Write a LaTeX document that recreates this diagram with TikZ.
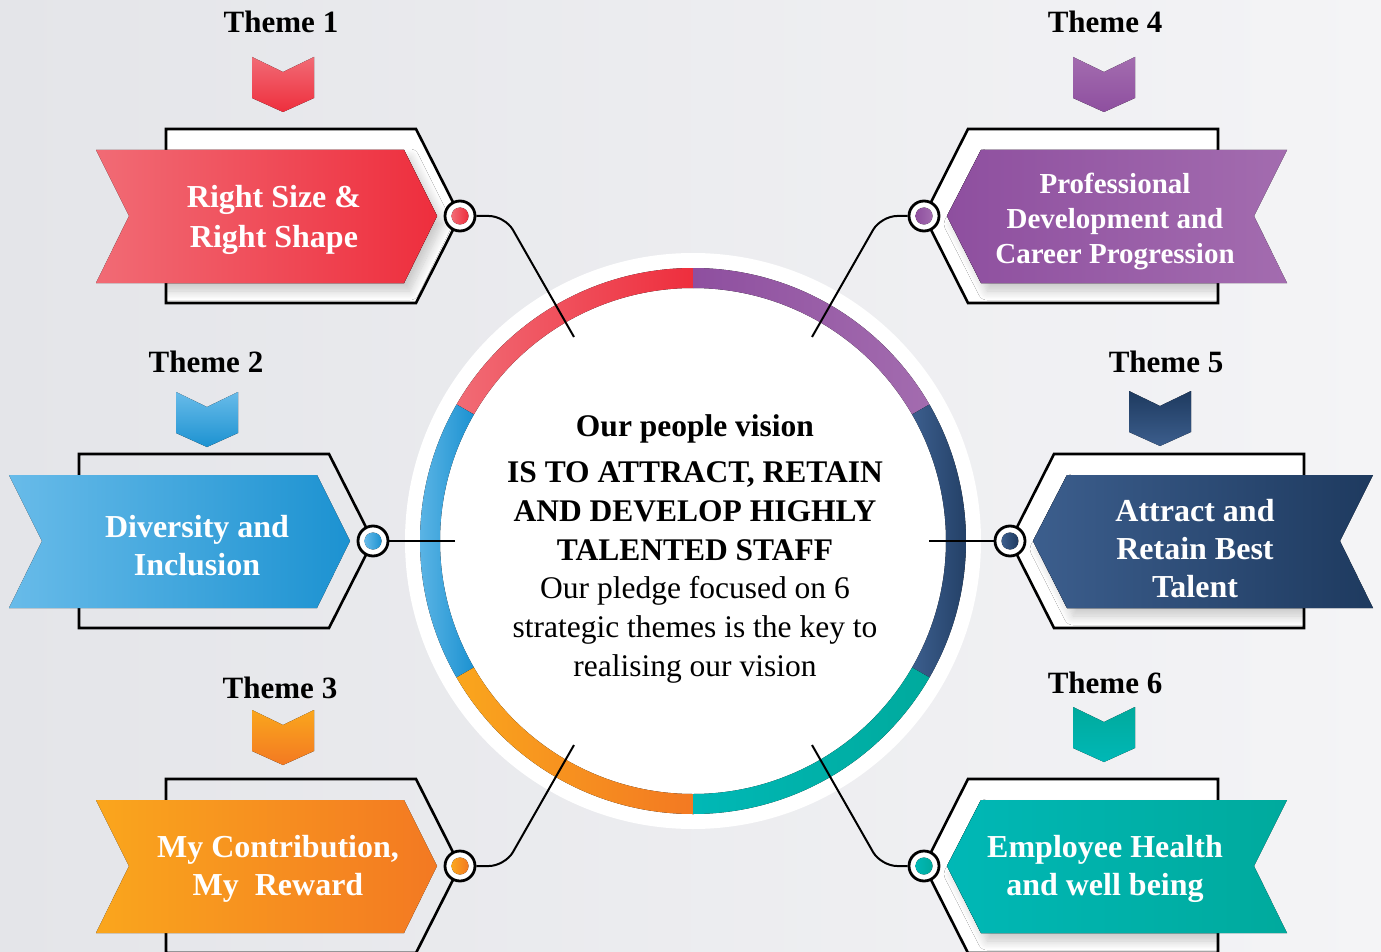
\documentclass[tikz,border=0pt]{standalone}
\usepackage{fontspec}
\setmainfont{Liberation Serif}
\usetikzlibrary{shadows.blur}

% palette
\definecolor{bgL}{HTML}{E4E5E9}
\definecolor{bgR}{HTML}{F4F4F6}
\definecolor{redA}{HTML}{F16B75}
\definecolor{redB}{HTML}{EE2E3D}
\definecolor{bluA}{HTML}{68BBE9}
\definecolor{bluB}{HTML}{1C92D1}
\definecolor{orgA}{HTML}{FAA61D}
\definecolor{orgB}{HTML}{F37922}
\definecolor{purA}{HTML}{8E4F9F}
\definecolor{purB}{HTML}{A36CAF}
\definecolor{navA}{HTML}{3C5E8D}
\definecolor{navB}{HTML}{1E3A5F}
\definecolor{tealA}{HTML}{00B8B6}
\definecolor{tealB}{HTML}{00AA9D}

% ribbon outlines, drawn around a dot centre at (0,0)
\def\RibPathL{(-364,66) -- (-56,66) -- (-23,0) -- (-56,-67) -- (-364,-67) -- (-331,0) -- cycle}
\def\RibPathR{(363,66) -- (57,66) -- (23,0) -- (57,-67) -- (363,-67) -- (330,0) -- cycle}
\def\FramePathL{(-294,87) -- (-44,87) -- (0,0) -- (-44,-87) -- (-294,-87) -- cycle}
\def\FramePathR{(294,87) -- (44,87) -- (0,0) -- (44,-87) -- (294,-87) -- cycle}

% framed ribbon whose soft shadow stays inside the white frame
\newcommand\ShadowedL[2]{%
  \fill[white] \FramePathL;
  \begin{scope}\clip \FramePathL;
    \fill[softshadow,left color=#1,right color=#2] \RibPathL;
  \end{scope}
  \draw[outl] \FramePathL;
  \fill[left color=#1,right color=#2] \RibPathL;}
\newcommand\ShadowedR[2]{%
  \fill[white] \FramePathR;
  \begin{scope}\clip \FramePathR;
    \fill[softshadow,left color=#1,right color=#2] \RibPathR;
  \end{scope}
  \draw[outl] \FramePathR;
  \fill[left color=#1,right color=#2] \RibPathR;}
\newcommand\PlainL[2]{%
  \draw[outl] \FramePathL;
  \fill[left color=#1,right color=#2] \RibPathL;}

% chevron marker: top centre at (0,0)
\newcommand\Chevron[2]{\fill[top color=#1,bottom color=#2]
  (-31,0) -- (0,-15) -- (31,0) -- (31,-41) -- (0,-55) -- (-31,-41) -- cycle;}
% ring segment of the central wheel
\newcommand\Segment[4]{\fill[left color=#3,right color=#4]
  (#1:273) arc[start angle=#1,end angle=#2,radius=273] -- (#2:253)
  arc[start angle=#2,end angle=#1,radius=253] -- cycle;}

\begin{document}
\begin{tikzpicture}[x=1pt,y=1pt,
  outl/.style={draw=black,line width=2.6pt,line join=miter},
  link/.style={draw=black,line width=2pt,rounded corners=16pt},
  dotring/.style={circle,draw=black,line width=2.8pt,fill=white,minimum size=30pt,inner sep=0pt},
  ribtxt/.style={text=white,font=\fontsize{32}{39}\selectfont\bfseries,align=center},
  themelbl/.style={font=\fontsize{31}{36}\selectfont\bfseries},
  softshadow/.style={blur shadow={shadow xshift=6pt,shadow yshift=-8pt,shadow blur steps=12,shadow blur radius=9pt,shadow opacity=22}}
]
% background
\shade[left color=bgL,right color=bgR] (0,0) rectangle (1381,-952);
\useasboundingbox (0,0) rectangle (1381,-952);

% central wheel
\begin{scope}[shift={(693,-541)}]
  \fill[white] (0,0) circle (288);
  \Segment{90}{150}{redA}{redB}
  \Segment{30}{90}{purA}{purB}
  \Segment{-30}{30}{navA}{navB}
  \Segment{150}{210}{bluA}{bluB}
  \Segment{210}{270}{orgA}{orgB}
  \Segment{270}{330}{tealA}{tealB}
\end{scope}
\node[font=\fontsize{31.5}{38.7}\selectfont,align=center] (vision) at (695,-549)
  {\textbf{Our people vision}\\[7pt]
   \textbf{IS TO ATTRACT, RETAIN}\\
   \textbf{AND DEVELOP HIGHLY}\\
   \textbf{TALENTED STAFF}\\
   Our pledge focused on 6\\
   strategic themes is the key to\\
   realising our vision};

% anchor points on the wheel
\coordinate (w1) at (574,-337);
\coordinate (w2) at (455,-541);
\coordinate (w3) at (574,-745);
\coordinate (w4) at (812,-337);
\coordinate (w5) at (929,-541);
\coordinate (w6) at (812,-745);

% Theme 1
\begin{scope}[shift={(460,-216)}]\ShadowedL{redA}{redB}\end{scope}
\node[ribtxt,font=\fontsize{32}{40}\selectfont\bfseries] (r1) at (274,-220) {Right Size \&\\Right Shape};
\node[dotring] (d1) at (460,-216) {};
\fill[left color=redA,right color=redB] (d1.center) circle (8.5);

% Theme 2
\begin{scope}[shift={(373,-541)}]\PlainL{bluA}{bluB}\end{scope}
\node[ribtxt,font=\fontsize{32}{38}\selectfont\bfseries] (r2) at (197,-546) {Diversity and\\Inclusion};
\node[dotring] (d2) at (373,-541) {};
\fill[left color=bluA,right color=bluB] (d2.center) circle (8.5);

% Theme 3
\begin{scope}[shift={(460,-866)}]\PlainL{orgA}{orgB}\end{scope}
\node[ribtxt,font=\fontsize{32}{38}\selectfont\bfseries] (r3) at (278,-869) {My Contribution,\\My\ \ Reward};
\node[dotring] (d3) at (460,-866) {};
\fill[left color=orgA,right color=orgB] (d3.center) circle (8.5);

% Theme 4
\begin{scope}[shift={(924,-216)}]\ShadowedR{purA}{purB}\end{scope}
\node[ribtxt,font=\fontsize{29}{35}\selectfont\bfseries] (r4) at (1115,-221) {Professional\\Development and\\Career Progression};
\node[dotring] (d4) at (924,-216) {};
\fill[left color=purA,right color=purB] (d4.center) circle (8.5);

% Theme 5
\begin{scope}[shift={(1010,-541)}]\ShadowedR{navA}{navB}\end{scope}
\node[ribtxt,font=\fontsize{32}{38}\selectfont\bfseries] (r5) at (1195,-549) {Attract and\\Retain Best\\Talent};
\node[dotring] (d5) at (1010,-541) {};
\fill[left color=navA,right color=navB] (d5.center) circle (8.5);

% Theme 6
\begin{scope}[shift={(924,-866)}]\ShadowedR{tealA}{tealB}\end{scope}
\node[ribtxt,font=\fontsize{32}{38}\selectfont\bfseries] (r6) at (1105,-869) {Employee Health\\and well being};
\node[dotring] (d6) at (924,-866) {};
\fill[left color=tealA,right color=tealB] (d6.center) circle (8.5);

% connectors from the wheel to the theme dots
\draw[link] (w1) -- (505,-216) -- (d1);
\draw[link] (w4) -- (881,-216) -- (d4);
\draw[link] (w3) -- (505,-866) -- (d3);
\draw[link] (w6) -- (881,-866) -- (d6);
\draw[link,line width=2.6pt] (w2) -- (d2);
\draw[link,line width=2.6pt] (w5) -- (d5);

% chevron markers and theme labels
\begin{scope}[shift={(283,-57)}]\Chevron{redA}{redB}\end{scope}
\begin{scope}[shift={(207,-392)}]\Chevron{bluA}{bluB}\end{scope}
\begin{scope}[shift={(283,-710)}]\Chevron{orgA}{orgB}\end{scope}
\begin{scope}[shift={(1104,-57)}]\Chevron{purB}{purA}\end{scope}
\begin{scope}[shift={(1160,-391)}]\Chevron{navB}{navA}\end{scope}
\begin{scope}[shift={(1104,-707)}]\Chevron{tealB}{tealA}\end{scope}

\node[themelbl] (t1) at (281,-22) {Theme 1};
\node[themelbl] (t2) at (206,-362) {Theme 2};
\node[themelbl] (t3) at (280,-688) {Theme 3};
\node[themelbl] (t4) at (1105,-22) {Theme 4};
\node[themelbl] (t5) at (1166,-362) {Theme 5};
\node[themelbl] (t6) at (1105,-683) {Theme 6};
\end{tikzpicture}
\end{document}
